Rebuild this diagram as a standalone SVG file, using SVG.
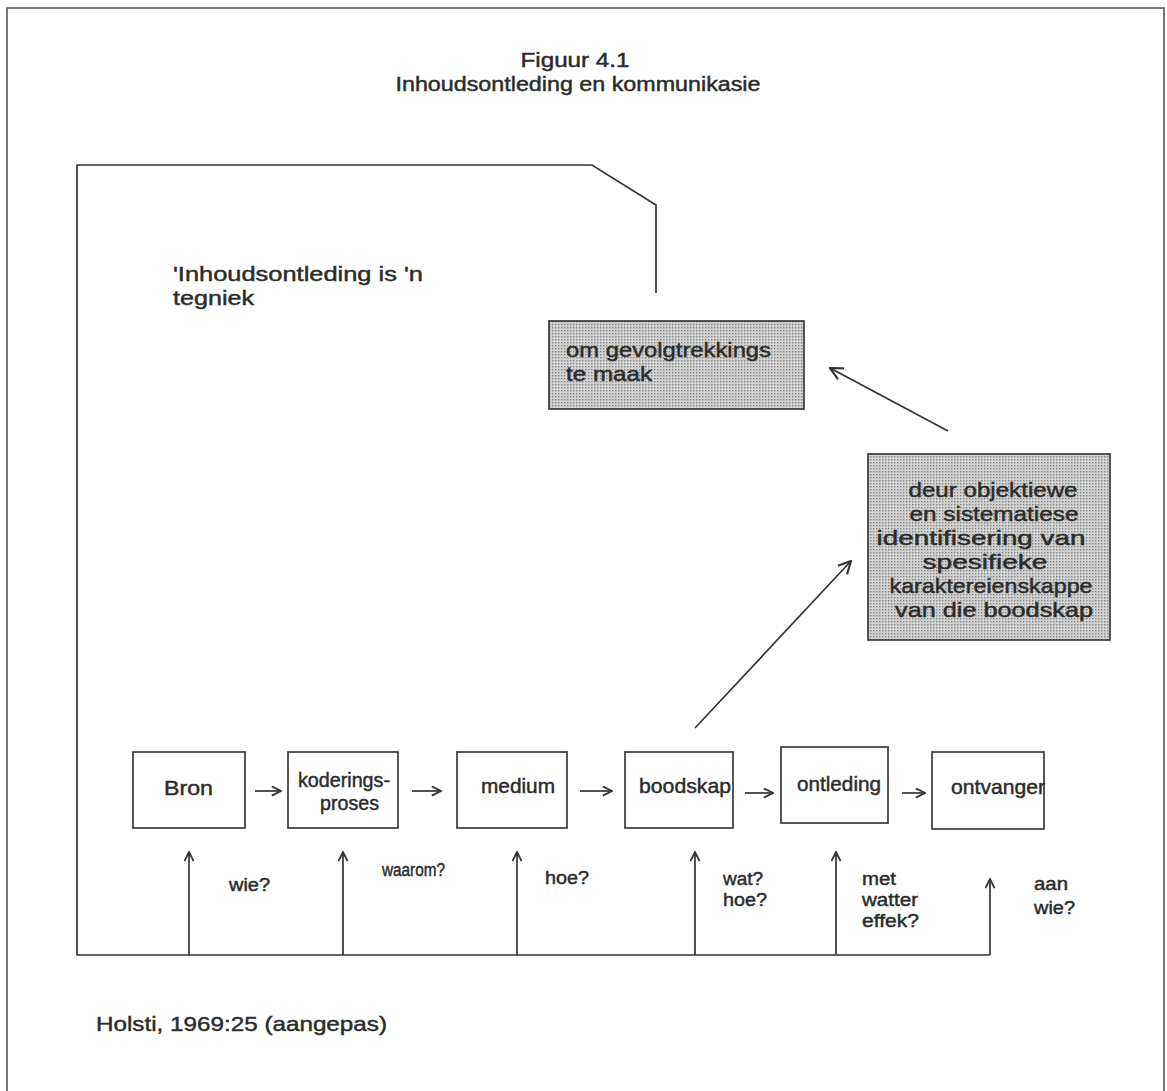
<svg xmlns="http://www.w3.org/2000/svg" width="1167" height="1091" viewBox="0 0 1167 1091">
  <style>
    .t { font-family: "Liberation Sans", Arial, sans-serif; fill: #2b2b2b; stroke: #2b2b2b; stroke-width: 0.45; }
    .title { font-size: 20px; }
    .body { font-size: 21px; }
    .lbl { font-size: 21px; }
    .q { font-size: 18px; }
    .node rect.plain { fill: #ffffff; stroke: #3a3a3a; stroke-width: 1.7; }
    .node rect.shade { fill: url(#dots); stroke: #3a3a3a; stroke-width: 1.7; }
    .conn line, .conn path { stroke: #333333; stroke-width: 1.7; fill: none; }
    .frame { stroke: #555555; stroke-width: 1.6; fill: none; }
  </style>
  <defs>
    <pattern id="dots" width="3" height="3" patternUnits="userSpaceOnUse">
      <rect width="3" height="3" fill="#d2d2d2"/>
      <rect x="0" y="0" width="1.4" height="1.4" fill="#858585"/>
    </pattern>
    <marker id="ah" viewBox="0 0 12 12" refX="11" refY="6" markerWidth="11" markerHeight="11" markerUnits="userSpaceOnUse" orient="auto">
      <path d="M1,1 L11,6 L1,11" fill="none" stroke="#333333" stroke-width="2"/>
    </marker>
    <marker id="ahL" viewBox="0 0 12 12" refX="11" refY="6" markerWidth="15" markerHeight="15" markerUnits="userSpaceOnUse" orient="auto">
      <path d="M1,1 L11,6 L1,11" fill="none" stroke="#333333" stroke-width="1.7"/>
    </marker>
  </defs>

  <rect width="1167" height="1091" fill="#ffffff"/>

  <!-- page border -->
  <path class="frame" d="M7,1091 L7,8 L1164,8 L1164,1091"/>

  <!-- heading -->
  <g id="heading">
    <text class="t title" x="575" y="67" text-anchor="middle" textLength="109" lengthAdjust="spacingAndGlyphs">Figuur 4.1</text>
    <text class="t title" x="578" y="91" text-anchor="middle" textLength="365" lengthAdjust="spacingAndGlyphs">Inhoudsontleding en kommunikasie</text>
  </g>

  <!-- definition text inside the enclosing outline -->
  <g id="definition">
    <text class="t body" x="173" y="281" textLength="250" lengthAdjust="spacingAndGlyphs">'Inhoudsontleding is 'n</text>
    <text class="t body" x="173" y="305" textLength="81" lengthAdjust="spacingAndGlyphs">tegniek</text>
  </g>

  <!-- connectors -->
  <g class="conn" id="connectors">
    <!-- enclosing outline from baseline up to the top -->
    <path d="M656,293 L656,205 L592,165 L77,165 L77,955 L990,955"/>
    <!-- flow between nodes -->
    <line x1="255" y1="791" x2="281" y2="791" marker-end="url(#ah)"/>
    <line x1="412" y1="791" x2="441" y2="791" marker-end="url(#ah)"/>
    <line x1="580" y1="791" x2="612" y2="791" marker-end="url(#ah)"/>
    <line x1="745" y1="793" x2="773" y2="793" marker-end="url(#ah)"/>
    <line x1="902" y1="793" x2="925" y2="793" marker-end="url(#ah)"/>
    <!-- question arrows -->
    <line x1="189" y1="955" x2="189" y2="852" marker-end="url(#ah)"/>
    <line x1="343" y1="955" x2="343" y2="852" marker-end="url(#ah)"/>
    <line x1="517" y1="955" x2="517" y2="852" marker-end="url(#ah)"/>
    <line x1="695" y1="955" x2="695" y2="852" marker-end="url(#ah)"/>
    <line x1="836" y1="955" x2="836" y2="852" marker-end="url(#ah)"/>
    <line x1="990" y1="955" x2="990" y2="879" marker-end="url(#ah)"/>
    <!-- diagonals to the shaded boxes -->
    <line x1="695" y1="728" x2="851" y2="561" marker-end="url(#ahL)"/>
    <line x1="948" y1="431" x2="830" y2="368" marker-end="url(#ahL)"/>
  </g>

  <!-- shaded boxes -->
  <g class="node" id="n-gevolgtrekkings">
    <rect class="shade" x="549" y="321" width="255" height="88"/>
    <text class="t body" x="566" y="357" textLength="205" lengthAdjust="spacingAndGlyphs">om gevolgtrekkings</text>
    <text class="t body" x="566" y="381" textLength="86" lengthAdjust="spacingAndGlyphs">te maak</text>
  </g>
  <g class="node" id="n-identifisering">
    <rect class="shade" x="868" y="454" width="242" height="186"/>
    <g text-anchor="middle">
      <text class="t body" x="993" y="497" textLength="169" lengthAdjust="spacingAndGlyphs">deur objektiewe</text>
      <text class="t body" x="994" y="521" textLength="169" lengthAdjust="spacingAndGlyphs">en sistematiese</text>
      <text class="t body" x="981" y="545" textLength="209" lengthAdjust="spacingAndGlyphs">identifisering van</text>
      <text class="t body" x="985" y="569" textLength="125" lengthAdjust="spacingAndGlyphs">spesifieke</text>
      <text class="t body" x="991" y="593" textLength="203" lengthAdjust="spacingAndGlyphs">karaktereienskappe</text>
      <text class="t body" x="994" y="617" textLength="198" lengthAdjust="spacingAndGlyphs">van die boodskap</text>
    </g>
  </g>

  <!-- communication chain -->
  <g class="node" id="n-bron">
    <rect class="plain" x="133" y="752" width="112" height="76"/>
    <text class="t lbl" x="164" y="795" textLength="49" lengthAdjust="spacingAndGlyphs">Bron</text>
  </g>
  <g class="node" id="n-koderingsproses">
    <rect class="plain" x="288" y="752" width="110" height="76"/>
    <text class="t lbl" x="298" y="787" textLength="92" lengthAdjust="spacingAndGlyphs">koderings-</text>
    <text class="t lbl" x="320" y="810" textLength="59" lengthAdjust="spacingAndGlyphs">proses</text>
  </g>
  <g class="node" id="n-medium">
    <rect class="plain" x="457" y="752" width="110" height="76"/>
    <text class="t lbl" x="481" y="793" textLength="74" lengthAdjust="spacingAndGlyphs">medium</text>
  </g>
  <g class="node" id="n-boodskap">
    <rect class="plain" x="625" y="752" width="108" height="76"/>
    <text class="t lbl" x="639" y="793" textLength="92" lengthAdjust="spacingAndGlyphs">boodskap</text>
  </g>
  <g class="node" id="n-ontleding">
    <rect class="plain" x="781" y="747" width="107" height="76"/>
    <text class="t lbl" x="797" y="791" textLength="84" lengthAdjust="spacingAndGlyphs">ontleding</text>
  </g>
  <g class="node" id="n-ontvanger">
    <rect class="plain" x="932" y="752" width="112" height="77"/>
    <text class="t lbl" x="951" y="794" textLength="94" lengthAdjust="spacingAndGlyphs">ontvanger</text>
  </g>

  <!-- questions -->
  <g id="questions">
    <text class="t q" x="229" y="891" textLength="41" lengthAdjust="spacingAndGlyphs">wie?</text>
    <text class="t q" x="382" y="876" textLength="63" lengthAdjust="spacingAndGlyphs">waarom?</text>
    <text class="t q" x="545" y="884" textLength="44" lengthAdjust="spacingAndGlyphs">hoe?</text>
    <text class="t q" x="723" y="885" textLength="40" lengthAdjust="spacingAndGlyphs">wat?</text>
    <text class="t q" x="723" y="906" textLength="44" lengthAdjust="spacingAndGlyphs">hoe?</text>
    <text class="t q" x="862" y="885" textLength="34" lengthAdjust="spacingAndGlyphs">met</text>
    <text class="t q" x="862" y="906" textLength="56" lengthAdjust="spacingAndGlyphs">watter</text>
    <text class="t q" x="862" y="927" textLength="57" lengthAdjust="spacingAndGlyphs">effek?</text>
    <text class="t q" x="1034" y="890" textLength="34" lengthAdjust="spacingAndGlyphs">aan</text>
    <text class="t q" x="1034" y="914" textLength="41" lengthAdjust="spacingAndGlyphs">wie?</text>
  </g>

  <!-- source note -->
  <text class="t body" x="96" y="1031" textLength="291" lengthAdjust="spacingAndGlyphs">Holsti, 1969:25 (aangepas)</text>
</svg>
